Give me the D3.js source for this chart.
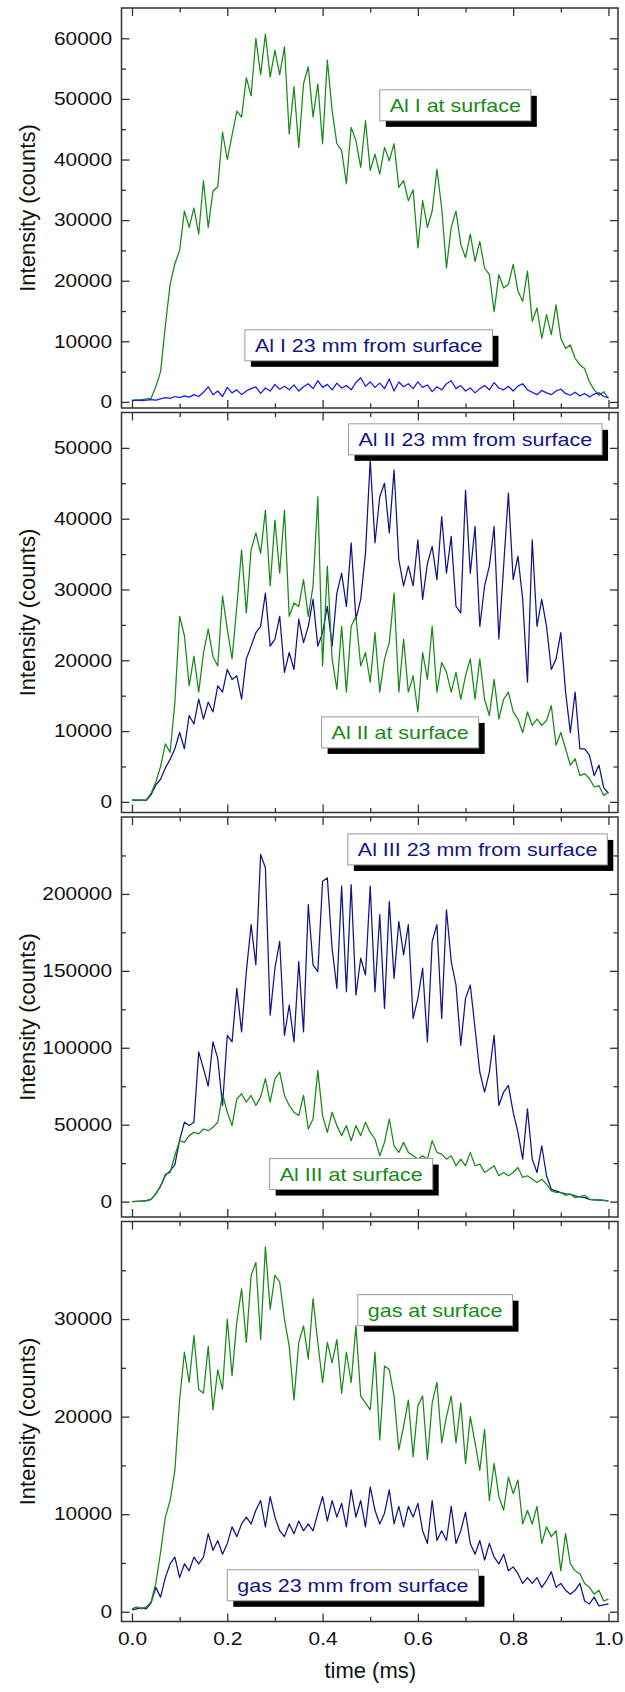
<!DOCTYPE html>
<html>
<head>
<meta charset="utf-8">
<script src="https://cdn.jsdelivr.net/npm/d3@7"></script>
<style>
  body { margin: 0; background: #fff; }
  text { font-family: 'Liberation Sans', Arial, sans-serif; }
</style>
</head>
<body>
<script>
// sampling grid of the traces (ms)
var time = d3.range(0, 101).map(function(i) { return i / 100; });

// Al I
var alISurface = [300,300,400,500,600,2500,5000,12500,19400,22800,
  25000,31500,28800,32000,27700,36500,28800,34800,35500,44500,
  40000,44000,48000,47000,53500,50500,60000,54000,60700,53600,
  58000,54000,58600,44200,52000,42000,52500,55300,47000,52500,
  42600,56400,48100,42600,41500,36000,45300,43100,38700,46400,
  38200,40900,37600,42000,39800,42600,35400,36500,33200,35000,
  25400,33200,28800,31500,38400,32000,22100,28800,31500,26000,
  23800,27700,23200,26500,22100,21000,14900,21000,18800,19400,
  22700,18300,16600,21600,13300,15500,10500,14400,11100,16000,
  10500,8800,9400,7200,6100,5500,3300,2000,1100,1700,
  600];
var alI23mm = [200,300,200,300,400,300,500,700,600,900,
  700,1000,800,1200,900,1600,2500,1200,1800,900,
  2400,1500,2000,1200,1800,2200,2500,1400,2300,1800,
  2900,2100,2600,2000,2800,1800,2500,3000,2200,3500,
  2400,2900,2000,3100,2300,2700,2000,3200,4000,2600,
  3300,2400,3100,2200,3800,1800,3300,2500,3000,2200,
  3300,2400,2800,1700,2500,2000,3000,3500,2200,2700,
  1800,2300,1500,2200,2700,2000,3200,2300,2000,2600,
  1800,2600,3000,2000,1600,1200,1900,1500,1200,1800,
  2100,1400,1100,1600,1000,1400,800,1300,1500,900,
  700];

// Al II
var alIISurface = [200,300,200,300,1200,2800,5000,8200,7000,14000,
  26200,23500,16400,20600,15500,21000,24400,20500,19200,29100,
  24400,20200,27600,35600,26700,35600,38000,35100,41200,30500,
  39800,32300,41200,26200,28100,27600,31400,26200,30500,43100,
  19200,33300,20200,15900,24800,15500,24800,26200,19200,21100,
  16900,23900,15500,20200,22500,29500,15500,23000,15500,17800,
  12700,21100,17300,24800,15500,19700,18300,15500,18300,14500,
  17800,20200,14500,20200,14500,12200,17300,11700,14500,15500,
  12700,11700,9800,12700,10800,11700,10800,11500,13600,8000,
  9800,7500,5200,6100,3700,4000,3300,2100,2300,900,
  1400];
var alII23mm = [300,200,300,200,1000,2400,3200,4800,6000,7500,
  9800,7500,12200,11000,14500,11700,14100,12700,16400,15500,
  18700,17300,17800,14500,20200,22000,23900,24800,29500,22000,
  23000,26200,18300,21100,18700,25800,22500,24800,28600,22000,
  23900,27600,22000,29500,32300,27600,36600,25800,28600,35100,
  48300,36600,43100,45000,38000,46900,34200,30500,33300,30500,
  37000,28600,33700,36100,31400,40300,32300,37500,27600,26700,
  44000,32300,38900,24800,30500,33300,38900,23000,33300,43600,
  31400,34700,28600,16900,37000,24800,28600,24800,18700,20200,
  23900,15500,9800,15500,7500,7500,6600,3700,5200,2000,
  1200];

// Al III
var alIIISurface = [0,200,300,500,1500,5000,10200,17800,18900,30000,
  39600,38500,42900,45000,44000,47200,46100,48300,51600,70100,
  58100,49400,66800,70100,64600,69000,62500,67900,79900,64600,
  79900,84200,69000,62500,58100,55900,69000,47200,53700,85300,
  55900,45000,58100,49400,42900,49400,39600,49400,42900,51600,
  45000,40700,29800,38500,53700,36300,32000,38500,32000,29800,
  27600,29800,27600,39600,32000,30900,27600,29800,23300,27600,
  23300,32000,23300,24400,18900,21100,23300,16800,18900,16800,
  18900,22200,15700,16800,14600,12400,14600,11300,7000,6000,
  5900,4100,4800,2600,3300,4100,1500,1100,1100,800,
  400];
var alIII23mm = [0,200,400,600,1500,5000,10000,17000,20000,24000,
  40000,51600,49400,51600,97300,86400,75000,103800,92900,62500,
  108100,103800,138600,110300,149500,180000,153900,225700,217000,121200,
  151700,169100,108100,127700,103800,156000,110300,193000,153900,149500,
  208200,210400,164700,138600,205000,136400,206100,134300,158200,147300,
  205000,136400,186500,125600,195200,145100,182100,160400,180000,119000,
  132100,151700,103800,169100,180000,119000,189700,156000,140800,101600,
  132100,140800,112500,84200,71200,84200,108100,62500,71200,75500,
  58100,45000,27600,60300,27600,18900,36300,16800,8000,7000,
  5900,5000,4800,3700,3000,2600,1500,1100,1000,800,
  500];

// gas
var gasSurface = [300,500,300,500,1000,2900,6100,9700,11400,14500,
  21700,26600,23500,28300,22800,22400,27200,20700,24800,22800,
  30000,24200,29700,33100,27600,34500,35800,27900,37400,31000,
  34500,33800,30000,27200,21700,27600,29300,25900,32100,27600,
  23500,27600,25500,27900,22400,26600,23500,29300,22100,21400,
  20700,26600,17600,25200,24800,22100,16600,19000,21700,15900,
  21100,22100,15600,21400,23500,17300,20000,22100,17300,21400,
  15200,20000,17300,14500,18700,11400,15200,11800,10400,13800,
  12100,13500,9000,10400,9000,10800,7000,8700,7700,8300,
  4200,8000,4900,4200,3900,2900,2500,1800,2200,1100,
  1300];
var gas23mm = [200,300,400,300,900,2500,1500,3500,4900,5600,
  3500,4900,4200,5600,4900,5600,8000,6300,7300,5900,
  7000,8700,7700,9000,9700,9000,10400,11400,8700,11800,
  9700,8300,7700,9000,8000,9300,8300,9000,8300,10100,
  11800,9300,11400,9700,11100,8700,12500,9700,11400,8700,
  12800,10400,9000,10100,12500,9000,10800,8700,10800,9700,
  11100,8300,7000,11400,7300,8300,7300,10800,7000,8300,
  10200,7000,5900,7300,5300,7000,5600,4900,5900,4200,
  4600,3900,2900,3500,2900,3500,2500,3200,4100,2500,
  2900,2200,1800,2200,2900,1100,800,1500,600,700,
  800];

// tick labels
var xTicks = [0, 0.2, 0.4, 0.6, 0.8, 1.0];
var yTicksAlI = [0, 10000, 20000, 30000, 40000, 50000, 60000];
var yTicksAlII = [0, 10000, 20000, 30000, 40000, 50000];
var yTicksAlIII = [0, 50000, 100000, 150000, 200000];
var yTicksGas = [0, 10000, 20000, 30000];

var green = '#178a17', navy = '#13138a', blue = '#1818f2';
var stretch = 1.16;

var panels = [
  { domain: [-1000, 65000], ticks: yTicksAlI, minor: 5000,
    series: [{ v: alISurface, c: green }, { v: alI23mm, c: blue }],
    labels: [{ t: 'Al I at surface', c: green, at: [0.52, 51500] },
             { t: 'Al I 23 mm from surface', c: navy, at: [0.237, 11900] }] },
  { domain: [-1500, 55000], ticks: yTicksAlII, minor: 5000,
    series: [{ v: alII23mm, c: navy }, { v: alIISurface, c: green }],
    labels: [{ t: 'Al II 23 mm from surface', c: navy, at: [0.4545, 53400] },
             { t: 'Al II at surface', c: green, at: [0.398, 12000] }] },
  { domain: [-10000, 250000], ticks: yTicksAlIII, minor: 25000,
    series: [{ v: alIII23mm, c: navy }, { v: alIIISurface, c: green }],
    labels: [{ t: 'Al III 23 mm from surface', c: navy, at: [0.453, 239000] },
             { t: 'Al III at surface', c: green, at: [0.289, 28000] }] },
  { domain: [-1000, 40000], ticks: yTicksGas, minor: 5000,
    series: [{ v: gas23mm, c: navy }, { v: gasSurface, c: green }],
    labels: [{ t: 'gas at surface', c: green, at: [0.474, 32500] },
             { t: 'gas 23 mm from surface', c: navy, at: [0.2, 4300] }] }
];

var svg = d3.select('body').append('svg')
    .attr('width', 625)
    .attr('height', 1692);

var x = d3.scaleLinear().domain([-0.022, 1.02]).range([121.5, 618]);
var panelH = 400, panelStep = 404.5, panelTop = 8;

function styleAxis(g) {
  g.select('.domain').remove();
  g.selectAll('line').attr('stroke', '#333').attr('stroke-width', 1.3);
}

panels.forEach(function(p, i) {
  var top = panelTop + i * panelStep;
  var bottom = top + panelH;
  var y = d3.scaleLinear().domain(p.domain).range([bottom, top]);
  var g = svg.append('g');

  var line = d3.line()
      .x(function(d, j) { return x(time[j]); })
      .y(function(d) { return y(d); });

  p.series.forEach(function(s) {
    g.append('path')
        .attr('d', line(s.v))
        .attr('fill', 'none')
        .attr('stroke', s.c)
        .attr('stroke-width', 1.25)
        .attr('stroke-linejoin', 'round');
  });

  // x ticks, inward on top and bottom
  var xMinor = d3.range(1, 10, 2).map(function(k) { return k / 10; });
  [[d3.axisBottom, bottom, -1], [d3.axisTop, top, 1]].forEach(function(a) {
    g.append('g').attr('transform', 'translate(0,' + a[1] + ')')
        .call(a[0](x).tickValues(xMinor).tickSize(-4.5).tickFormat(''))
        .call(styleAxis);
    var maj = g.append('g').attr('transform', 'translate(0,' + a[1] + ')')
        .call(a[0](x).tickValues(xTicks).tickSize(-8).tickPadding(11)
          .tickFormat(d3.format('.1f')))
        .call(styleAxis);
    if (a[0] === d3.axisTop || i < panels.length - 1) {
      maj.selectAll('text').remove();
    } else {
      maj.selectAll('text')
          .attr('font-size', 18)
          .attr('fill', '#111')
          .attr('font-family', "'Liberation Sans', Arial, sans-serif")
          .attr('transform', 'scale(' + stretch + ',1)');
    }
  });

  // y ticks, inward on left and right
  var yMinor = d3.range(p.minor, p.domain[1], p.minor * 2);
  [[d3.axisLeft, 121.5], [d3.axisRight, 618]].forEach(function(a) {
    g.append('g').attr('transform', 'translate(' + a[1] + ',0)')
        .call(a[0](y).tickValues(yMinor).tickSize(-4.5).tickFormat(''))
        .call(styleAxis);
    var maj = g.append('g').attr('transform', 'translate(' + a[1] + ',0)')
        .call(a[0](y).tickValues(p.ticks).tickSize(-8).tickPadding(9.5 / stretch)
          .tickFormat(d3.format('d')))
        .call(styleAxis);
    if (a[0] === d3.axisRight) {
      maj.selectAll('text').remove();
    } else {
      maj.selectAll('text')
          .attr('font-size', 18)
          .attr('fill', '#111')
          .attr('font-family', "'Liberation Sans', Arial, sans-serif")
          .attr('transform', 'scale(' + stretch + ',1)');
    }
  });

  // frame
  g.append('rect')
      .attr('x', 121.5)
      .attr('y', top)
      .attr('width', 618 - 121.5)
      .attr('height', panelH)
      .attr('fill', 'none')
      .attr('stroke', '#333')
      .attr('stroke-width', 1.5);

  // y title
  g.append('text')
      .attr('transform', 'translate(35,' + (top + panelH / 2) + ') rotate(-90)')
      .attr('font-size', 22)
      .attr('fill', '#111')
      .style('text-anchor', 'middle')
      .text('Intensity (counts)');

  // labels with drop shadow
  p.labels.forEach(function(l) {
    var bx = x(l.at[0]), by = y(l.at[1]), bh = 31;
    var lg = g.append('g');
    var shadow = lg.append('rect');
    var box = lg.append('rect');
    var txt = lg.append('text')
        .attr('transform', 'translate(' + (bx + 10) + ',' + (by + 22) + ') scale(' + stretch + ',1)')
        .attr('font-size', 18.5)
        .attr('fill', l.c)
        .text(l.t);
    var bw = txt.node().getComputedTextLength() * stretch + 20;
    shadow.attr('x', bx + 6).attr('y', by + 6).attr('width', bw).attr('height', bh)
        .attr('fill', '#000');
    box.attr('x', bx).attr('y', by).attr('width', bw).attr('height', bh)
        .attr('fill', '#fff').attr('stroke', '#9a9a9a').attr('stroke-width', 1);
  });
});

// x title
svg.append('text')
    .attr('x', x(0.5))
    .attr('y', 1678)
    .attr('font-size', 22)
    .attr('fill', '#111')
    .style('text-anchor', 'middle')
    .text('time (ms)');
</script>
</body>
</html>
